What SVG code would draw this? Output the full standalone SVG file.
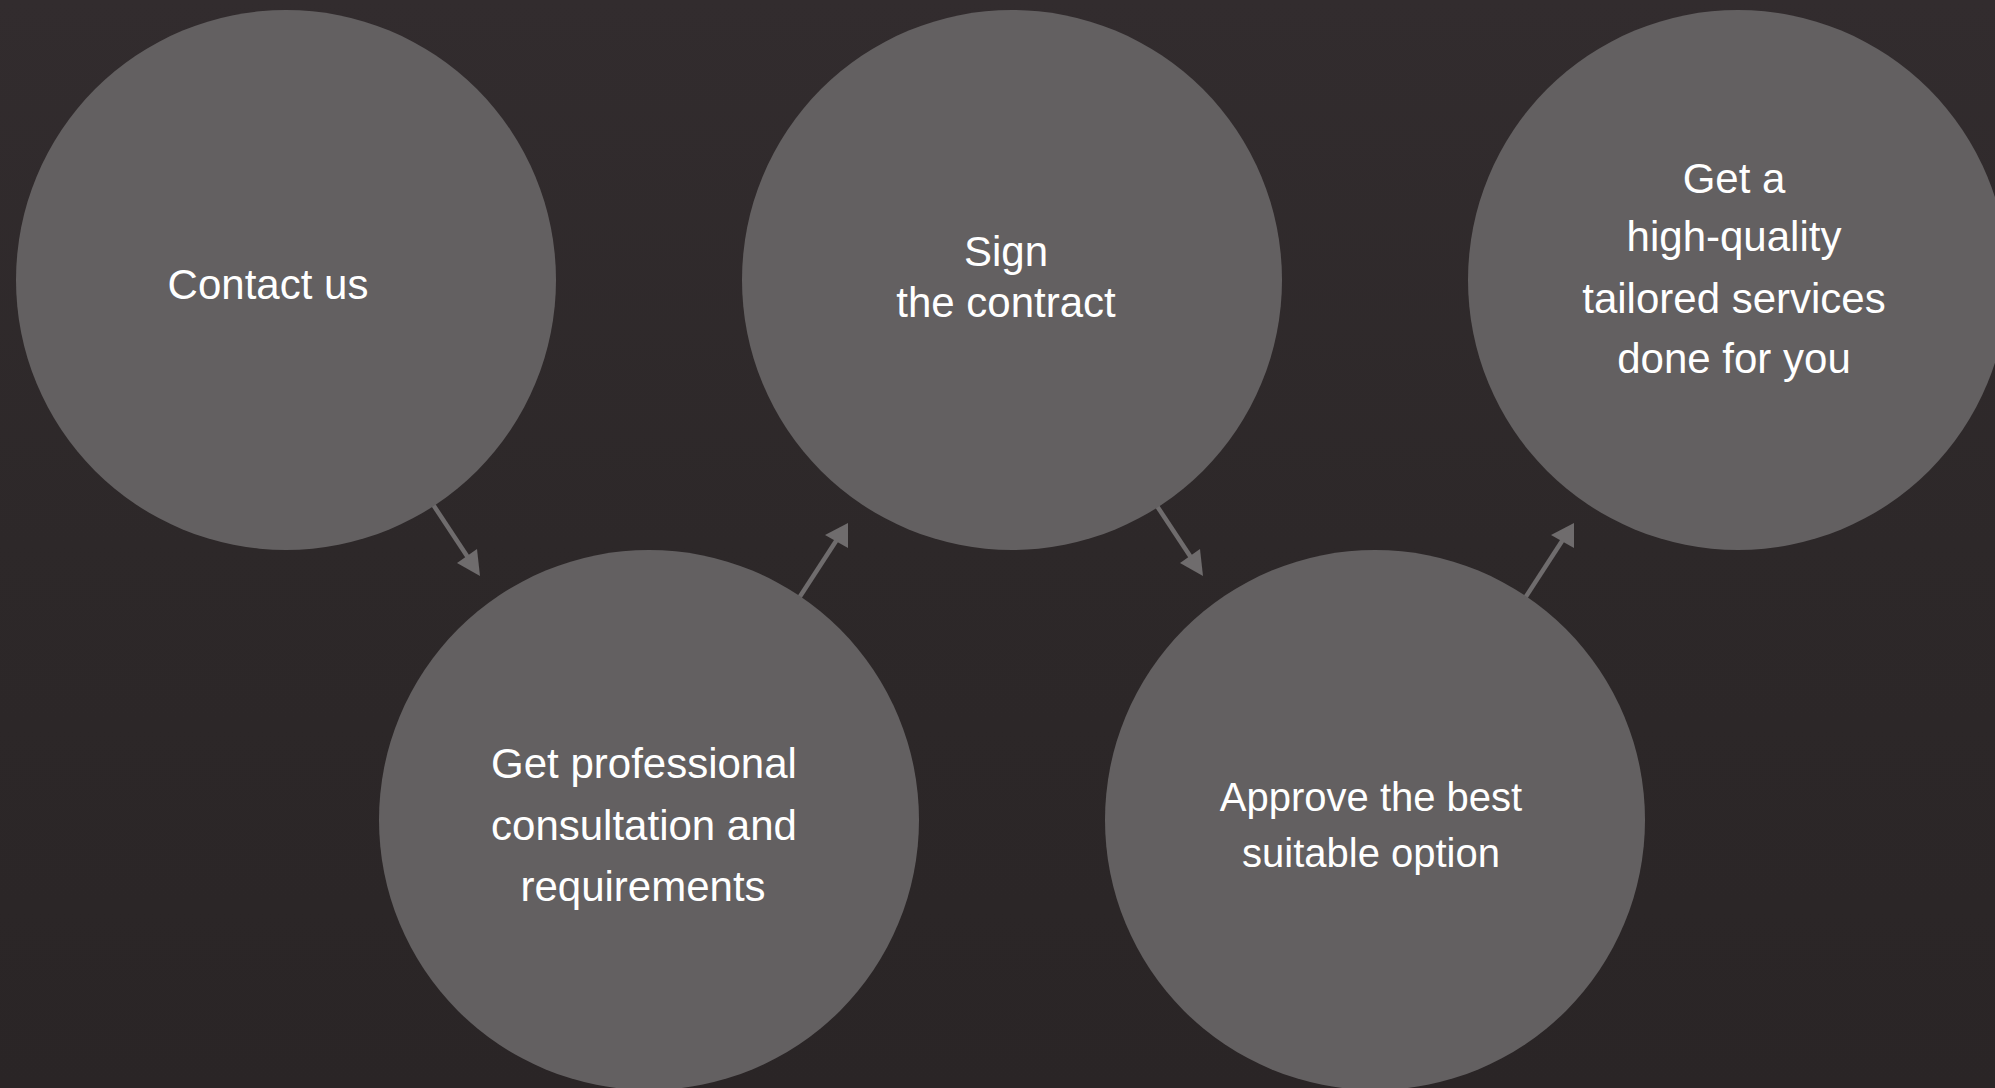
<svg xmlns="http://www.w3.org/2000/svg" width="1995" height="1088" viewBox="0 0 1995 1088">
  <defs>
    <linearGradient id="bg" x1="0" y1="0" x2="0" y2="1">
      <stop offset="0" stop-color="#322c2e"/>
      <stop offset="0.5" stop-color="#2d2829"/>
      <stop offset="1" stop-color="#2a2526"/>
    </linearGradient>
    <style>
      .node { fill: #636061; }
      .label { fill: #ffffff; font-family: "Liberation Sans", Arial, sans-serif; font-size: 42px; text-anchor: middle; }
      .small { font-size: 40px; }
      .conn line { stroke: #6f6c6d; stroke-width: 4.5; }
      .conn polygon { fill: #6f6c6d; }
    </style>
  </defs>
  <rect x="0" y="0" width="1995" height="1088" fill="url(#bg)"/>

  <g id="connectors" class="conn">
    <g id="c1">
      <line x1="432" y1="503" x2="469" y2="559"/>
      <polygon points="480,576 457,563 477,549"/>
    </g>
    <g id="c2">
      <line x1="799" y1="598" x2="838" y2="538"/>
      <polygon points="848,523 825,535 848,548"/>
    </g>
    <g id="c3">
      <line x1="1155" y1="503" x2="1192" y2="559"/>
      <polygon points="1203,576 1180,563 1200,549"/>
    </g>
    <g id="c4">
      <line x1="1525" y1="598" x2="1564" y2="538"/>
      <polygon points="1574,523 1551,535 1574,548"/>
    </g>
  </g>

  <g id="node-contact">
    <circle class="node" cx="286" cy="280" r="270"/>
    <text class="label" x="268" y="299">Contact us</text>
  </g>

  <g id="node-sign">
    <circle class="node" cx="1012" cy="280" r="270"/>
    <text class="label" x="1006" y="266">Sign</text>
    <text class="label" x="1006" y="317">the contract</text>
  </g>

  <g id="node-get">
    <circle class="node" cx="1738" cy="280" r="270"/>
    <text class="label" x="1734" y="193">Get a</text>
    <text class="label" x="1734" y="251">high-quality</text>
    <text class="label" x="1734" y="313">tailored services</text>
    <text class="label" x="1734" y="373">done for you</text>
  </g>

  <g id="node-consult">
    <circle class="node" cx="649" cy="820" r="270"/>
    <text class="label" x="644" y="778">Get professional</text>
    <text class="label" x="644" y="840">consultation and</text>
    <text class="label" x="643" y="901">requirements</text>
  </g>

  <g id="node-approve">
    <circle class="node" cx="1375" cy="820" r="270"/>
    <text class="label small" x="1371" y="811">Approve the best</text>
    <text class="label small" x="1371" y="867">suitable option</text>
  </g>
</svg>
